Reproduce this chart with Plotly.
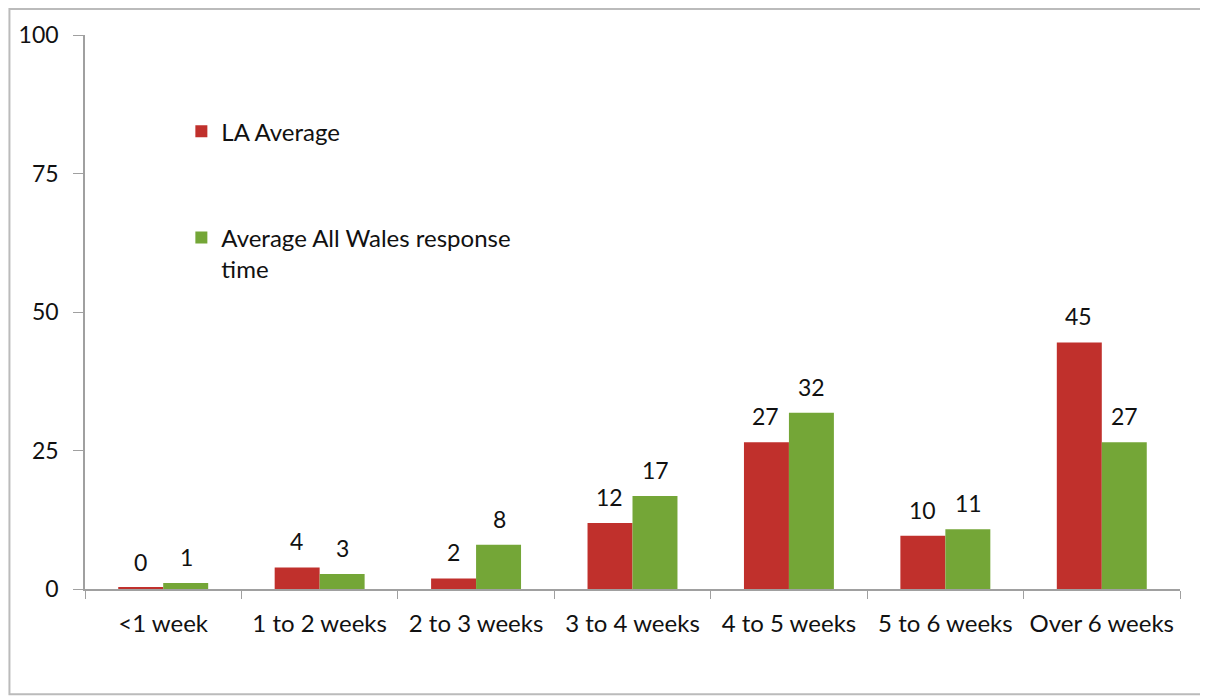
import plotly.graph_objects as go

categories = ["<1 week", "1 to 2 weeks", "2 to 3 weeks", "3 to 4 weeks",
              "4 to 5 weeks", "5 to 6 weeks", "Over 6 weeks"]
la_values = [0.2, 3.9, 1.9, 11.9, 26.5, 9.6, 44.5]
la_labels = ["0", "4", "2", "12", "27", "10", "45"]
wales_values = [1.1, 2.7, 8.0, 16.8, 31.8, 10.8, 26.5]
wales_labels = ["1", "3", "8", "17", "32", "11", "27"]
y_ticks = [0, 25, 50, 75, 100]

FONT = "Lato"
RED = "#C0302C"
GREEN = "#74A637"

fig = go.Figure()
fig.add_trace(go.Bar(
    x=categories, y=la_values, name="LA Average", legendgroup="a",
    marker=dict(color=RED, line=dict(width=0))))
fig.add_trace(go.Bar(
    x=categories, y=wales_values, name="Average All Wales response<br>time", legendgroup="b",
    marker=dict(color=GREEN, line=dict(width=0))))

# data labels above each bar (offset left/right to sit over the grouped bars)
annotations = []
for cat, v, t in zip(categories, la_values, la_labels):
    annotations.append(dict(x=cat, y=v, text=t, xref="x", yref="y", showarrow=False,
                            yanchor="bottom", xshift=-23, yshift=10,
                            font=dict(size=23, color="#111111", family=FONT)))
for cat, v, t in zip(categories, wales_values, wales_labels):
    annotations.append(dict(x=cat, y=v, text=t, xref="x", yref="y", showarrow=False,
                            yanchor="bottom", xshift=23, yshift=10,
                            font=dict(size=23, color="#111111", family=FONT)))

fig.update_layout(
    width=1208, height=700,
    margin=dict(l=77, r=36, t=27, b=119),
    paper_bgcolor="white", plot_bgcolor="white",
    font=dict(family=FONT, size=20, color="#111111"),
    barmode="group", bargap=0.425, bargroupgap=0,
    showlegend=True,
    legend=dict(x=0.088, y=0.866, xanchor="left", yanchor="top", valign="top",
                orientation="v", tracegroupgap=72, bgcolor="rgba(0,0,0,0)",
                font=dict(size=24, family=FONT), itemwidth=30),
    xaxis=dict(showline=True, linecolor="#A0A0A0", linewidth=1.5,
               ticks="outside", tickson="boundaries", ticklen=8, tickcolor="#A0A0A0",
               showgrid=False, tickfont=dict(size=24), ticklabelstandoff=12),
    yaxis=dict(range=[0, 100], tickvals=y_ticks, showline=True, linecolor="#A0A0A0",
               linewidth=1.5, ticks="outside", ticklen=10, tickcolor="#A0A0A0",
               showgrid=False, zeroline=False, tickfont=dict(size=23), ticklabelstandoff=10),
    annotations=annotations,
    shapes=[dict(type="rect", xref="paper", yref="paper",
                 x0=-0.069, x1=1.026, y0=-0.190, y1=1.047,
                 line=dict(color="#BBBBBB", width=2), fillcolor="rgba(0,0,0,0)", layer="below")],
)

fig.write_html("out.html")
